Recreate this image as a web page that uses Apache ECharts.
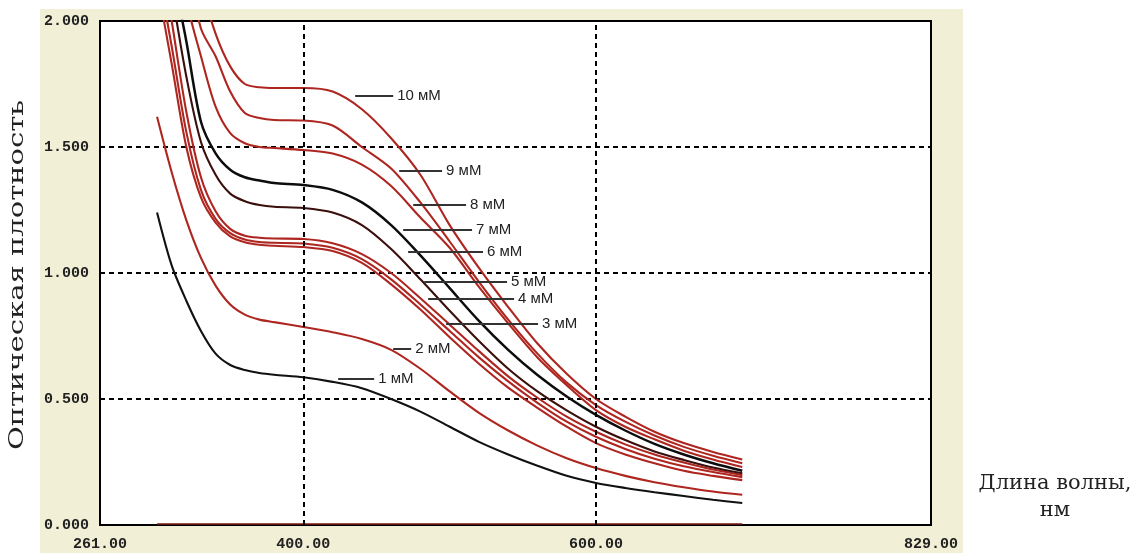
<!DOCTYPE html>
<html>
<head>
<meta charset="utf-8">
<script src="https://cdn.jsdelivr.net/npm/echarts@6/dist/echarts.min.js"></script>
<style>
  html, body { margin: 0; padding: 0; background: #ffffff; }
  #bg { position: absolute; left: 40px; top: 9px; width: 923px; height: 544px; background: #f1efd5; }
  #chart { position: absolute; left: 0; top: 0; width: 1146px; height: 553px; }
</style>
</head>
<body>
<div id="bg"></div>
<div id="chart"></div>
<script>
// wavelength grid (nm)
const wavelengths = [300,310,320,330,340,350,360,370,380,400,420,440,460,480,500,520,540,560,580,600,620,640,660,680,700];

// optical density per concentration
const od1mM  = [1.24,1.03,0.89,0.77,0.68,0.635,0.615,0.603,0.596,0.586,0.568,0.543,0.50,0.45,0.39,0.33,0.28,0.235,0.195,0.167,0.147,0.13,0.115,0.10,0.087];
const od2mM  = [1.62,1.40,1.21,1.06,0.95,0.875,0.835,0.815,0.805,0.786,0.765,0.738,0.695,0.62,0.53,0.445,0.375,0.315,0.265,0.226,0.195,0.17,0.15,0.133,0.12];
const od3mM  = [2.15,1.83,1.50,1.30,1.20,1.145,1.122,1.112,1.108,1.103,1.087,1.04,0.955,0.855,0.745,0.64,0.545,0.465,0.39,0.325,0.28,0.245,0.215,0.195,0.178];
const od4mM  = [2.22,1.90,1.56,1.33,1.215,1.158,1.133,1.123,1.12,1.117,1.10,1.055,0.975,0.875,0.77,0.665,0.57,0.485,0.41,0.35,0.302,0.263,0.233,0.21,0.19];
const od5mM  = [2.35,2.00,1.64,1.38,1.245,1.175,1.148,1.14,1.137,1.135,1.118,1.075,1.00,0.90,0.795,0.69,0.59,0.505,0.43,0.37,0.32,0.28,0.248,0.22,0.198];
const od6mM  = [2.50,2.12,1.78,1.52,1.39,1.315,1.285,1.27,1.263,1.258,1.24,1.19,1.095,0.975,0.85,0.73,0.62,0.53,0.455,0.39,0.337,0.292,0.258,0.228,0.205];
const od7mM  = [2.60,2.22,1.92,1.60,1.475,1.41,1.38,1.367,1.357,1.349,1.33,1.28,1.19,1.07,0.94,0.81,0.695,0.595,0.51,0.437,0.375,0.322,0.28,0.245,0.215];
const od8mM  = [2.75,2.40,2.08,1.86,1.66,1.555,1.515,1.50,1.496,1.488,1.474,1.43,1.345,1.22,1.10,0.945,0.80,0.665,0.555,0.456,0.39,0.34,0.295,0.26,0.23];
const od9mM  = [2.90,2.55,2.25,1.97,1.86,1.72,1.635,1.615,1.607,1.605,1.585,1.50,1.415,1.28,1.125,0.965,0.815,0.68,0.565,0.476,0.41,0.355,0.31,0.275,0.245];
const od10mM = [3.10,2.75,2.45,2.15,1.95,1.82,1.75,1.737,1.734,1.734,1.72,1.65,1.535,1.39,1.19,1.02,0.865,0.72,0.60,0.50,0.43,0.37,0.325,0.29,0.26];
const baseline = [0.004,0.004,0.004,0.004,0.004,0.004,0.004,0.004,0.004,0.004,0.004,0.004,0.004,0.004,0.004,0.004,0.004,0.004,0.004,0.004,0.004,0.004,0.004,0.004,0.004];

const seriesNames = ['1 мМ','2 мМ','3 мМ','4 мМ','5 мМ','6 мМ','7 мМ','8 мМ','9 мМ','10 мМ'];
const seriesValues = [od1mM, od2mM, od3mM, od4mM, od5mM, od6mM, od7mM, od8mM, od9mM, od10mM];
const seriesColors = ['#111111','#ae2620','#ae2620','#ae2620','#ae2620','#3a0f0c','#0d0d0d','#ae2620','#ae2620','#ae2620'];

// label leaders: [startNm, endNm, value]
const leaderStartNm = [423.8,461.4,497.6,485.3,482.6,471.6,468.2,475.1,465.5,435.4];
const leaderEndNm   = [448.4,473.7,560.4,544.0,539.2,522.8,515.3,511.2,494.8,461.4];
const leaderValue   = [0.579,0.698,0.798,0.897,0.964,1.083,1.171,1.270,1.405,1.702];

const xTicks = [261, 400, 600, 829];
const xGridLines = [400, 600];

const chart = echarts.init(document.getElementById('chart'));

const series = seriesValues.map((vals, i) => ({
  name: seriesNames[i],
  type: 'line',
  data: wavelengths.map((w, j) => [w, vals[j]]),
  smooth: 0.3,
  symbol: 'none',
  clip: true,
  z: 3,
  lineStyle: { color: seriesColors[i], width: i === 6 ? 2.5 : 2.1 },
  markLine: {
    silent: true,
    symbol: 'none',
    animation: false,
    lineStyle: { color: '#333333', width: 2, type: 'solid' },
    label: {
      show: true, position: 'end', distance: 4,
      formatter: seriesNames[i],
      color: '#222222', fontFamily: 'Liberation Sans, Arial, sans-serif', fontSize: 15
    },
    data: [[{ coord: [leaderStartNm[i], leaderValue[i]] }, { coord: [leaderEndNm[i], leaderValue[i]] }]]
  }
}));

series.push({
  name: 'baseline', type: 'line', symbol: 'none', z: 2,
  data: wavelengths.map((w, j) => [w, baseline[j]]),
  lineStyle: { color: '#7a1a14', width: 1.5 },
  markLine: {
    silent: true, symbol: 'none', animation: false,
    label: { show: false },
    lineStyle: { color: '#000000', width: 2, type: [5, 4] },
    data: xGridLines.map(v => ({ xAxis: v }))
  }
});

chart.setOption({
  animation: false,
  backgroundColor: 'transparent',
  grid: {
    left: 100, right: 215, top: 21, bottom: 28,
    show: true, backgroundColor: '#ffffff', borderColor: '#000000', borderWidth: 2
  },
  xAxis: {
    type: 'value', min: 261, max: 829,
    axisLine: { show: true, lineStyle: { color: '#000', width: 2 } },
    axisTick: { show: false },
    splitLine: { show: false },
    axisLabel: {
      customValues: xTicks,
      formatter: v => v.toFixed(2),
      color: '#222', fontFamily: 'Liberation Mono, monospace', fontWeight: 'bold', fontSize: 15, margin: 12
    }
  },
  yAxis: {
    type: 'value', min: 0, max: 2, interval: 0.5,
    axisLine: { show: true, lineStyle: { color: '#000', width: 2 } },
    axisTick: { show: false },
    splitLine: { show: true, lineStyle: { color: '#000', width: 2, type: [5, 4] } },
    axisLabel: {
      formatter: v => v.toFixed(3),
      color: '#222', fontFamily: 'Liberation Mono, monospace', fontWeight: 'bold', fontSize: 15, margin: 11
    }
  },
  graphic: [
    {
      type: 'text', x: 18, y: 275, rotation: Math.PI / 2, scaleX: 1.45,
      style: { text: 'Оптическая плотность', fontFamily: 'DejaVu Serif, serif', fontSize: 20, fill: '#222',
               align: 'center', verticalAlign: 'middle' }
    },
    {
      type: 'text', x: 1055, y: 497,
      style: { text: 'Длина волны,\nнм', fontFamily: 'DejaVu Serif, serif', fontSize: 21, lineHeight: 27, fill: '#222',
               align: 'center', verticalAlign: 'middle' }
    }
  ],
  series: series
});
</script>
</body>
</html>
